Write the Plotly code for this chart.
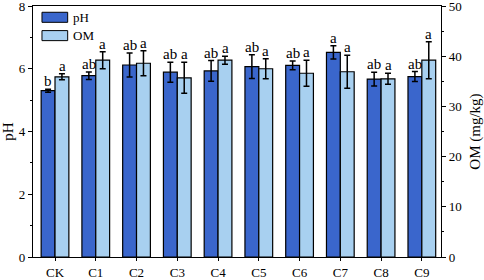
import plotly.graph_objects as go

categories = ["CK", "C1", "C2", "C3", "C4", "C5", "C6", "C7", "C8", "C9"]
ph_values = [5.30, 5.78, 6.12, 5.89, 5.93, 6.07, 6.11, 6.52, 5.67, 5.75]
ph_errors = [0.05, 0.12, 0.38, 0.32, 0.33, 0.38, 0.14, 0.21, 0.22, 0.16]
om_values = [35.9, 39.2, 38.6, 35.7, 39.2, 37.5, 36.6, 36.9, 35.5, 39.2]
om_errors = [0.6, 1.7, 2.5, 3.1, 0.8, 2.0, 2.6, 3.3, 1.1, 3.7]
ph_letters = ["b", "ab", "ab", "ab", "ab", "ab", "ab", "a", "ab", "ab"]
om_letters = ["a"] * 10

PH_COLOR = "#3A66CC"
OM_COLOR = "#A8D0F0"
FONT = "Liberation Serif"

fig = go.Figure()
fig.add_trace(go.Bar(
    x=categories, y=ph_values, name="pH", yaxis="y",
    width=0.34, offset=-0.34, offsetgroup="ph",
    marker=dict(color=PH_COLOR, line=dict(color="black", width=1.2)),
    error_y=dict(type="data", array=ph_errors, color="black", thickness=1.5, width=3),
    showlegend=False,
))
fig.add_trace(go.Bar(
    x=categories, y=om_values, name="OM", yaxis="y2",
    width=0.34, offset=0.0, offsetgroup="om",
    marker=dict(color=OM_COLOR, line=dict(color="black", width=1.2)),
    error_y=dict(type="data", array=om_errors, color="black", thickness=1.5, width=3),
    showlegend=False,
))

annotations = []
for c, v, e, t in zip(categories, ph_values, ph_errors, ph_letters):
    annotations.append(dict(x=c, y=v + e, xref="x", yref="y", text=t, showarrow=False,
                            xshift=-7, yanchor="bottom", yshift=-2,
                            font=dict(family=FONT, size=15, color="black")))
for c, v, e, t in zip(categories, om_values, om_errors, om_letters):
    annotations.append(dict(x=c, y=v + e, xref="x", yref="y2", text=t, showarrow=False,
                            xshift=7, yanchor="bottom", yshift=-2,
                            font=dict(family=FONT, size=15, color="black")))

# legend drawn manually
shapes = [
    dict(type="rect", xref="paper", yref="paper", x0=0.022, x1=0.085, y0=0.935, y1=0.975,
         fillcolor=PH_COLOR, line=dict(color="black", width=1)),
    dict(type="rect", xref="paper", yref="paper", x0=0.022, x1=0.085, y0=0.862, y1=0.902,
         fillcolor=OM_COLOR, line=dict(color="black", width=1)),
]
annotations += [
    dict(x=0.093, y=0.955, xref="paper", yref="paper", text="pH", showarrow=False,
         xanchor="left", yanchor="middle", font=dict(family=FONT, size=13, color="black")),
    dict(x=0.093, y=0.882, xref="paper", yref="paper", text="OM", showarrow=False,
         xanchor="left", yanchor="middle", font=dict(family=FONT, size=13, color="black")),
]

fig.update_layout(
    width=484, height=280,
    margin=dict(l=33, r=43, t=6, b=23, autoexpand=False),
    paper_bgcolor="white", plot_bgcolor="white",
    font=dict(family=FONT, size=13, color="black"),
    annotations=annotations,
    shapes=shapes,
    xaxis=dict(
        range=[-0.54, 9.47], showline=True, linecolor="black", linewidth=1.2, mirror=True,
        ticks="outside", ticklen=3, tickcolor="black", showgrid=False, automargin=False,
        tickfont=dict(family=FONT, size=13), ticklabeloverflow="allow",
    ),
    yaxis=dict(
        range=[0, 8], dtick=2, showline=True, linecolor="black", linewidth=1.2,
        ticks="outside", ticklen=4, tickcolor="black", showgrid=False, zeroline=False,
        minor=dict(dtick=1, ticks="outside", ticklen=2, tickcolor="black"),
        title=dict(text="pH", font=dict(family=FONT, size=15), standoff=6),
        tickfont=dict(family=FONT, size=13), automargin=False, ticklabeloverflow="allow",
    ),
    yaxis2=dict(
        range=[0, 50], dtick=10, overlaying="y", side="right", showline=True,
        linecolor="black", linewidth=1.2,
        ticks="outside", ticklen=4, tickcolor="black", showgrid=False, zeroline=False,
        minor=dict(dtick=5, ticks="outside", ticklen=2, tickcolor="black"),
        title=dict(text="OM (mg/kg)", font=dict(family=FONT, size=15), standoff=8),
        tickfont=dict(family=FONT, size=13), automargin=False, ticklabeloverflow="allow",
    ),
)

fig.write_html(
    "out.html",
    config={"displayModeBar": False},
    post_script="document.body.style.margin='0';document.body.style.overflow='hidden';",
)
